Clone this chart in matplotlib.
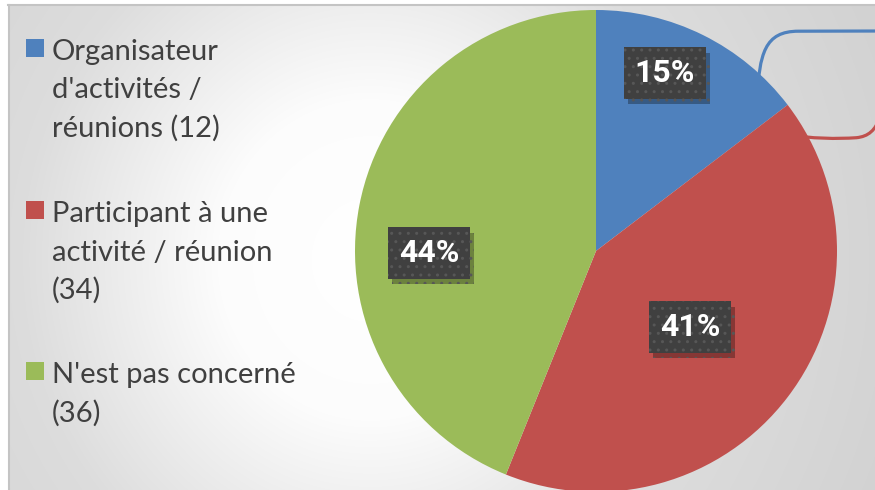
import numpy as np
import matplotlib
matplotlib.use("Agg")
import matplotlib.pyplot as plt
import matplotlib.patheffects as pe
from matplotlib.patches import Rectangle, PathPatch
from matplotlib.path import Path

# ---- data ----
legend_labels = ["Organisateur\nd'activités /\nréunions ({})",
                 "Participant à une\nactivité / réunion\n({})",
                 "N'est pas concerné\n({})"]
values = [12, 34, 36]
colors = ["#4F81BD", "#C0504D", "#9BBB59"]

W, H = 875, 490
fig = plt.figure(figsize=(W / 100, H / 100), dpi=100)

# background gradient (pixel grid)
x0, y0 = 9, 6
bg = fig.add_axes([x0 / W, 0, 1 - x0 / W, 1 - y0 / H])
yy, xx = np.mgrid[y0:H, x0:W].astype(float)
d = np.sqrt((xx - 370) ** 2 + ((yy - 260) / 1.05) ** 2)
val = np.interp(d, [0, 150, 350, 550], [1.0, 0.99, 0.865, 0.825])
bg.imshow(np.dstack([val] * 3), aspect="auto", extent=[0, 1, 0, 1], origin="upper",
          interpolation="bilinear")
bg.set_xlim(0, 1)
bg.set_ylim(0, 1)
bg.axis("off")
fig.add_artist(plt.Line2D([8 / W, 1], [1 - 5.5 / H] * 2, color="#c4c4c4", lw=1.5))
fig.add_artist(plt.Line2D([8.5 / W] * 2, [0, 1 - 5 / H], color="#c4c4c4", lw=1.5))

# pie
cxp, cyp, R = 596, 251, 241
ax = fig.add_axes([(cxp - R) / W, (H - cyp - R) / H, 2 * R / W, 2 * R / H])
ax.pie(values, colors=colors, startangle=90, counterclock=False, radius=1,
       wedgeprops=dict(linewidth=0))
ax.set_xlim(-1, 1)
ax.set_ylim(-1, 1)
ax.set_aspect("equal")
ax.axis("off")

# leader lines (decorative, leaving the frame)
blue = Path([(0.668, 0.627), (0.678, 0.82), (0.70, 0.912), (0.84, 0.912), (1.25, 0.913)],
            [Path.MOVETO, Path.CURVE4, Path.CURVE4, Path.CURVE4, Path.LINETO])
red = Path([(0.776, 0.485), (0.9, 0.465), (1.0, 0.465), (1.08, 0.47),
            (1.13, 0.475), (1.16, 0.50), (1.18, 0.56)],
           [Path.MOVETO, Path.CURVE4, Path.CURVE4, Path.CURVE4,
            Path.CURVE4, Path.CURVE4, Path.CURVE4])
for p, c in [(blue, colors[0]), (red, colors[1])]:
    ax.add_patch(PathPatch(p, fc="none", ec=c, lw=2.3, clip_on=False, capstyle="round"))

# percentage labels
total = sum(values)
label_pos = [(0.286, 0.739), (0.39, -0.315), (-0.693, -0.008)]
for v, (x, y) in zip(values, label_pos):
    txt = f"{round(100 * v / total)}%"
    t = ax.text(x, y, txt, ha="center", va="center", fontsize=23, fontweight="bold",
                family=["Roboto", "DejaVu Sans"], color="white",
                bbox=dict(boxstyle="square,pad=0.34", fc="#404040", ec="#575757", lw=0,
                          hatch=".."))
    t.get_bbox_patch().set_path_effects(
        [pe.SimplePatchShadow(offset=(3, -4), shadow_rgbFace="black", alpha=0.3), pe.Normal()])

# legend
first_baselines = [60, 222, 383]
line_step = 38.5
for lab, v, c, yb in zip(legend_labels, values, colors, first_baselines):
    lines = lab.format(v).split("\n")
    fig.add_artist(Rectangle((26 / W, 1 - (yb - 3) / H), 18 / W, 18 / H,
                             transform=fig.transFigure, fc=c, ec="none"))
    for i, ln in enumerate(lines):
        fig.text(52 / W, 1 - (yb + i * line_step) / H, ln, ha="left", va="baseline",
                 fontsize=21, family="Lato", color="#404040")

fig.savefig("out.png", dpi=100)
